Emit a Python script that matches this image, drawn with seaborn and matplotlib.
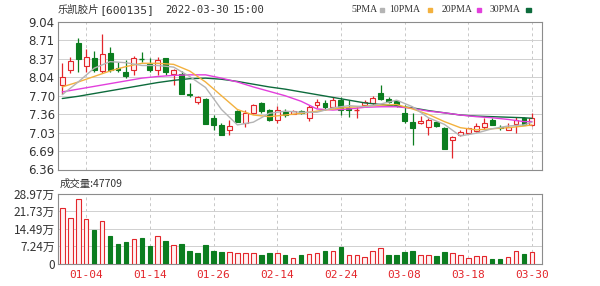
import numpy as np
import pandas as pd
import matplotlib
matplotlib.use("Agg")
import matplotlib.pyplot as plt
import seaborn as sns

# ---------------- data ----------------
dates = ["12-29", "12-30", "12-31", "01-04", "01-05", "01-06", "01-07", "01-10", "01-11", "01-12",
         "01-13", "01-14", "01-17", "01-18", "01-19", "01-20", "01-21", "01-24", "01-25", "01-26",
         "01-27", "01-28", "02-07", "02-08", "02-09", "02-10", "02-11", "02-14", "02-15", "02-16",
         "02-17", "02-18", "02-21", "02-22", "02-23", "02-24", "02-25", "02-28", "03-01", "03-02",
         "03-03", "03-04", "03-07", "03-08", "03-09", "03-10", "03-11", "03-14", "03-15", "03-16",
         "03-17", "03-18", "03-21", "03-22", "03-23", "03-24", "03-25", "03-28", "03-29", "03-30"]

opens = [7.89, 8.17, 8.65, 8.245, 8.38, 8.15, 8.47, 8.20, 8.14, 8.17,
         8.37, 8.27, 8.17, 8.38, 8.09, 8.095, 7.74, 7.59, 7.65, 7.29,
         7.17, 7.08, 7.42, 7.20, 7.38, 7.56, 7.44, 7.26, 7.41, 7.37,
         7.43, 7.29, 7.54, 7.56, 7.50, 7.62, 7.47, 7.44, 7.53, 7.56,
         7.75, 7.65, 7.60, 7.38, 7.23, 7.20, 7.14, 7.23, 7.11, 6.89,
         6.99, 7.02, 7.06, 7.13, 7.26, 7.14, 7.08, 7.19, 7.29, 7.17]
closes = [8.045, 8.33, 8.36, 8.41, 8.17, 8.45, 8.17, 8.16, 8.05, 8.38,
          8.36, 8.17, 8.35, 8.14, 8.17, 7.74, 7.72, 7.68, 7.19, 7.17,
          6.99, 7.15, 7.23, 7.38, 7.53, 7.42, 7.26, 7.45, 7.35, 7.43,
          7.38, 7.49, 7.58, 7.50, 7.63, 7.45, 7.44, 7.45, 7.59, 7.66,
          7.65, 7.59, 7.53, 7.24, 7.11, 7.25, 7.26, 7.15, 6.74, 6.95,
          7.05, 7.11, 7.15, 7.20, 7.17, 7.11, 7.14, 7.26, 7.17, 7.29]
highs = [8.29, 8.41, 8.755, 8.55, 8.51, 8.82, 8.59, 8.32, 8.35, 8.43,
         8.50, 8.38, 8.41, 8.38, 8.19, 8.155, 7.93, 7.70, 7.66, 7.35,
         7.20, 7.26, 7.44, 7.44, 7.55, 7.58, 7.46, 7.51, 7.46, 7.44,
         7.45, 7.53, 7.64, 7.62, 7.67, 7.68, 7.63, 7.50, 7.62, 7.69,
         7.89, 7.67, 7.62, 7.53, 7.38, 7.33, 7.29, 7.25, 7.13, 6.97,
         7.08, 7.12, 7.20, 7.29, 7.29, 7.17, 7.20, 7.32, 7.31, 7.38]
lows = [7.74, 8.11, 8.14, 8.14, 8.125, 8.11, 8.14, 8.14, 8.02, 8.08,
        8.31, 8.14, 8.08, 8.08, 7.89, 7.74, 7.68, 7.55, 7.19, 7.07,
        6.98, 6.99, 7.22, 7.13, 7.36, 7.38, 7.25, 7.20, 7.31, 7.36,
        7.36, 7.24, 7.48, 7.44, 7.48, 7.35, 7.32, 7.29, 7.50, 7.54,
        7.63, 7.57, 7.50, 7.20, 6.80, 7.18, 6.99, 7.14, 6.73, 6.56,
        6.97, 7.00, 7.04, 7.09, 7.16, 7.07, 7.07, 7.02, 7.16, 7.15]

# volume in 万 (10k shares) and its colour direction (1 = up / red, 0 = down / green)
volume = [23.1, 18.8, 26.9, 18.4, 13.9, 17.6, 11.4, 8.4, 9.1, 10.1,
          10.5, 7.6, 11.4, 9.3, 8.0, 8.2, 5.4, 4.4, 8.0, 5.4,
          5.1, 5.1, 4.4, 4.4, 4.7, 3.5, 4.4, 4.4, 3.9, 2.3,
          3.5, 4.2, 4.4, 5.2, 5.2, 7.0, 3.9, 3.9, 2.7, 5.2,
          6.5, 3.5, 3.5, 4.9, 5.5, 3.8, 3.8, 3.3, 5.1, 4.7,
          3.9, 2.6, 3.3, 3.3, 2.0, 2.0, 2.7, 5.4, 4.0, 4.7709]
vol_up = [1, 1, 1, 1, 0, 1, 0, 0, 0, 1,
          0, 0, 1, 0, 1, 0, 0, 0, 0, 0,
          0, 1, 1, 1, 1, 0, 0, 1, 0, 1,
          0, 1, 1, 0, 1, 0, 1, 1, 1, 1,
          1, 0, 0, 0, 0, 1, 1, 0, 0, 1,
          1, 1, 1, 1, 0, 0, 1, 1, 0, 1]

# moving averages (bar index, value)
ma_idx = [0, 2, 4, 6, 8, 10, 12, 14, 16, 18, 20, 22, 24, 26, 28, 30,
          32, 34, 36, 38, 40, 42, 44, 46, 48, 50, 52, 54, 56, 58, 59]
ma5 = [7.72, 7.95, 8.20, 8.32, 8.30, 8.25, 8.25, 8.22, 8.05, 7.85, 7.45, 7.17, 7.22, 7.38, 7.42, 7.40,
       7.40, 7.48, 7.52, 7.50, 7.55, 7.62, 7.50, 7.30, 7.18, 6.97, 7.02, 7.10, 7.15, 7.17, 7.22]
ma10 = [7.86, 7.95, 8.05, 8.15, 8.23, 8.29, 8.29, 8.27, 8.15, 7.95, 7.70, 7.45, 7.35, 7.32, 7.35, 7.38,
        7.42, 7.46, 7.49, 7.51, 7.53, 7.54, 7.46, 7.36, 7.23, 7.12, 7.08, 7.10, 7.12, 7.15, 7.17]
ma20 = [7.77, 7.82, 7.87, 7.92, 7.97, 8.02, 8.05, 8.07, 8.08, 8.08, 8.02, 7.95, 7.86, 7.78, 7.70, 7.60,
        7.46, 7.44, 7.46, 7.49, 7.50, 7.50, 7.47, 7.42, 7.39, 7.35, 7.32, 7.30, 7.27, 7.23, 7.23]
ma30 = [7.65, 7.69, 7.74, 7.79, 7.84, 7.89, 7.94, 7.98, 8.01, 8.02, 8.00, 7.96, 7.91, 7.86, 7.82, 7.77,
        7.72, 7.67, 7.62, 7.57, 7.54, 7.51, 7.48, 7.43, 7.39, 7.35, 7.33, 7.32, 7.31, 7.30, 7.29]

price_ticks = [6.36, 6.69, 7.03, 7.36, 7.70, 8.04, 8.37, 8.71, 9.04]
vol_ticks = [0, 7.24, 14.49, 21.73, 28.97]
vol_labels = ["0", "7.24万", "14.49万", "21.73万", "28.97万"]
date_ticks = ["01-04", "01-14", "01-26", "02-14", "02-24", "03-08", "03-18", "03-30"]

# ---------------- style ----------------
sns.set_theme(style="white")
plt.rcParams['font.family'] = ['Noto Sans CJK SC', 'DejaVu Sans']

RED = "#e3262b"
GREEN = "#0b7d1f"
PINK = "#fff2f2"
GRID = "#d0d0d0"
SPINE = "#8c8c8c"
TXT = "#333333"
MONO = ['DejaVu Sans Mono', 'Noto Sans CJK SC']

W, H = 600, 286
fig = plt.figure(figsize=(W / 100, H / 100), dpi=100)
fig.patch.set_facecolor("white")

def rect(x0, y0, x1, y1):
    return [x0 / W, 1 - y1 / H, (x1 - x0) / W, (y1 - y0) / H]

ax = fig.add_axes(rect(57.5, 22, 541.5, 169.5))
axv = fig.add_axes(rect(57.5, 193.5, 541.5, 264))

n = len(opens)
x = np.arange(n)
df = pd.DataFrame({"x": x, "open": opens, "close": closes, "high": highs, "low": lows,
                   "vol": volume, "up": vol_up})

# ---- candles ----
bw = 0.62
for i, r in df.iterrows():
    o, c, h, l = r["open"], r["close"], r["high"], r["low"]
    up = c >= o
    col = RED if up else GREEN
    top, bot = max(o, c), min(o, c)
    ax.vlines(r["x"], l, h, color=col, lw=0.9, zorder=2)
    if top - bot < 0.012:
        ax.hlines((top + bot) / 2, r["x"] - bw / 2, r["x"] + bw / 2, color=col, lw=1.0, zorder=3)
    else:
        ax.bar(r["x"], top - bot, bottom=bot, width=bw,
               facecolor=(PINK if up else GREEN), edgecolor=col, lw=0.8, zorder=3)

# ---- moving averages ----
ma_df = pd.DataFrame({"x": ma_idx, "ma5": ma5, "ma10": ma10, "ma20": ma20, "ma30": ma30})
for key, colr in [("ma30", "#0d6b3c"), ("ma20", "#e23fdc"), ("ma10", "#f3b13e"), ("ma5", "#b4b4b4")]:
    sns.lineplot(data=ma_df, x="x", y=key, ax=ax, color=colr, lw=1.0, zorder=4, legend=False)

# ---- volume ----
for i, r in df.iterrows():
    if r["up"]:
        axv.bar(r["x"], r["vol"], width=0.58, facecolor=PINK, edgecolor=RED, lw=0.8, zorder=3)
    else:
        axv.bar(r["x"], r["vol"], width=0.58, facecolor=GREEN, edgecolor=GREEN, lw=0.8, zorder=3)

# ---- axes formatting ----
tick_pos = [dates.index(d) for d in date_ticks]
for a in (ax, axv):
    a.set_xlim(-0.6, 60.2)
    a.set_xlabel("")
    a.set_ylabel("")
    a.set_facecolor("white")
    for s in a.spines.values():
        s.set_color(SPINE)
        s.set_linewidth(0.8)
    for p in tick_pos:
        a.axvline(p, color="#c8c8c8", lw=0.7, ls=(0, (3, 3)), zorder=0)
    a.tick_params(axis="both", length=0, pad=2, colors=TXT)

ax.set_ylim(6.36, 9.04)
ax.set_yticks(price_ticks)
ax.set_yticklabels([f"{v:.2f}" for v in price_ticks], fontsize=8.5, color=TXT, family="DejaVu Sans")
for v in price_ticks[1:-1]:
    ax.axhline(v, color=GRID, lw=0.7, zorder=0)
ax.set_xticks([])

axv.set_ylim(0, 28.97)
axv.set_yticks(vol_ticks)
axv.set_yticklabels(vol_labels, fontsize=8.5, color=TXT)
for v in vol_ticks[1:-1]:
    axv.axhline(v, color=GRID, lw=0.7, zorder=0)
axv.set_xticks(tick_pos)
axv.set_xticklabels(date_ticks, fontsize=8, color=RED, family="DejaVu Sans Mono")
axv.tick_params(axis="x", pad=4)

# ---- texts ----
fig.text(58 / W, 1 - 10 / H, "乐凯胶片", fontsize=7.5, color=TXT, va="center", ha="left")
fig.text(99 / W, 1 - 10 / H, "[600135]", fontsize=8.2, color=TXT, va="center", ha="left", family=MONO)
fig.text(165 / W, 1 - 10 / H, "2022-03-30", fontsize=7.6, color=TXT, va="center", ha="left", family=MONO)
fig.text(233 / W, 1 - 10 / H, "15:00", fontsize=7.6, color=TXT, va="center", ha="left", family=MONO)
fig.text(60 / W, 1 - 184 / H, "成交量:47709", fontsize=7.5, color=TXT, va="center", ha="left")

legend_items = [("5PMA", 351.5, 380, "#b4b4b4"), ("10PMA", 389, 427.5, "#f3b13e"),
                ("20PMA", 441.5, 477, "#e23fdc"), ("30PMA", 490, 526, "#0d6b3c")]
for lab, tx, mx, colr in legend_items:
    fig.text(tx / W, 1 - 10 / H, lab, fontsize=7, color=TXT, va="center", ha="left",
             family="Liberation Serif")
    fig.patches.append(matplotlib.patches.Rectangle((mx / W, 1 - 11.5 / H), 4.5 / W, 3 / H,
                                                    transform=fig.transFigure, color=colr))

fig.savefig("out.png", dpi=100)
